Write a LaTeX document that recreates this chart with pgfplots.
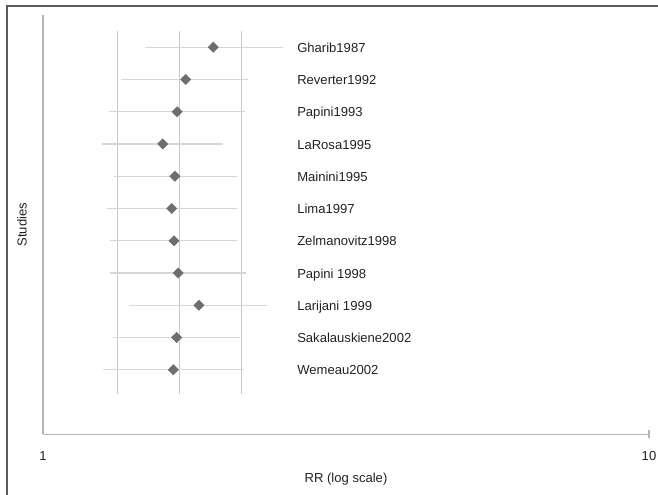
\documentclass[border=0pt]{standalone}
\usepackage{pgfplots}
\pgfplotsset{compat=1.18}
\usepackage{fontspec}
\setmainfont{Liberation Sans}
\definecolor{frame}{HTML}{5A5A5A}
\definecolor{axisgray}{HTML}{B4B4B4}
\definecolor{refline}{HTML}{C8C8C8}
\definecolor{ciline}{HTML}{D6D6D6}
\definecolor{pointc}{HTML}{6E6E6E}
\definecolor{txt}{HTML}{222222}
\begin{document}
\fontsize{9.8}{12}\selectfont
\begin{tikzpicture}
\path[use as bounding box] (0pt,0pt) rectangle (493.5pt,371.25pt);
\draw[frame, line width=1.5pt] (4.5pt,366.9pt) -- (493.5pt,366.9pt);
\draw[frame, line width=1.5pt] (5.25pt,0pt) -- (5.25pt,367.5pt);
\begin{axis}[
  at={(32.25pt,45.525pt)}, anchor=south west,
  scale only axis, width=454.5pt, height=314.5pt,
  xmode=log, xmin=1, xmax=10, ymin=-1, ymax=12,
  axis lines*=left,
  axis line style={axisgray, line width=0.8pt},
  xtick={10}, xticklabels={10}, xminorticks=false,
  extra x ticks={1}, extra x tick labels={1},
  extra x tick style={major tick length=0pt, xticklabel style={yshift=-3pt}},
  ytick=\empty,
  tick align=center, major tick length=5.7pt,
  tick style={axisgray, line width=0.8pt},
  xticklabel style={anchor=center, yshift=-13.3pt, text=txt},
  /pgf/number format/assume math mode=true,
  xlabel={RR (log scale)}, ylabel={Studies},
  xlabel style={at={(axis description cs:0.5,-0.1065)}, anchor=center, text=txt},
  ylabel style={at={(axis description cs:-0.0347,0.5)}, anchor=center, text=txt},
  clip=false, unbounded coords=jump,
]
% reference lines (pooled estimate and CI)
\addplot[refline, line width=1.1pt] coordinates {(1.326,0.25) (1.326,11.5)};
\addplot[refline, line width=1.1pt] coordinates {(1.681,0.25) (1.681,11.5)};
\addplot[refline, line width=1.1pt] coordinates {(2.128,0.25) (2.128,11.5)};
% confidence intervals
\addplot[ciline, line width=0.8pt] coordinates {
(1.474,11) (2.486,11) (nan,nan)
(1.345,10) (2.183,10) (nan,nan)
(1.286,9) (2.154,9) (nan,nan)
(1.250,8) (1.980,8) (nan,nan)
(1.310,7) (2.087,7) (nan,nan)
(1.274,6) (2.087,6) (nan,nan)
(1.290,5) (2.092,5) (nan,nan)
(1.290,4) (2.160,4) (nan,nan)
(1.388,3) (2.345,3) (nan,nan)
(1.306,2) (2.114,2) (nan,nan)
(1.257,1) (2.146,1)
};
% point estimates
\addplot[only marks, mark=square*, mark size=2.7pt, mark options={rotate=45, fill=pointc, draw=pointc}] coordinates {
(1.910,11) (1.720,10) (1.665,9) (1.576,8) (1.651,7) (1.631,6)
(1.645,5) (1.672,4) (1.809,3) (1.662,2) (1.641,1)
};
\foreach \lab/\yy in {Gharib1987/11, Reverter1992/10, Papini1993/9, LaRosa1995/8, Mainini1995/7, Lima1997/6, Zelmanovitz1998/5, Papini 1998/4, Larijani 1999/3, Sakalauskiene2002/2, Wemeau2002/1}{
  \edef\temp{\noexpand\node[anchor=base west, inner sep=0pt, text=txt, yshift=-3.9pt] at (axis cs:2.625,\yy) {\lab};}
  \temp
}
\end{axis}
\end{tikzpicture}
\end{document}
